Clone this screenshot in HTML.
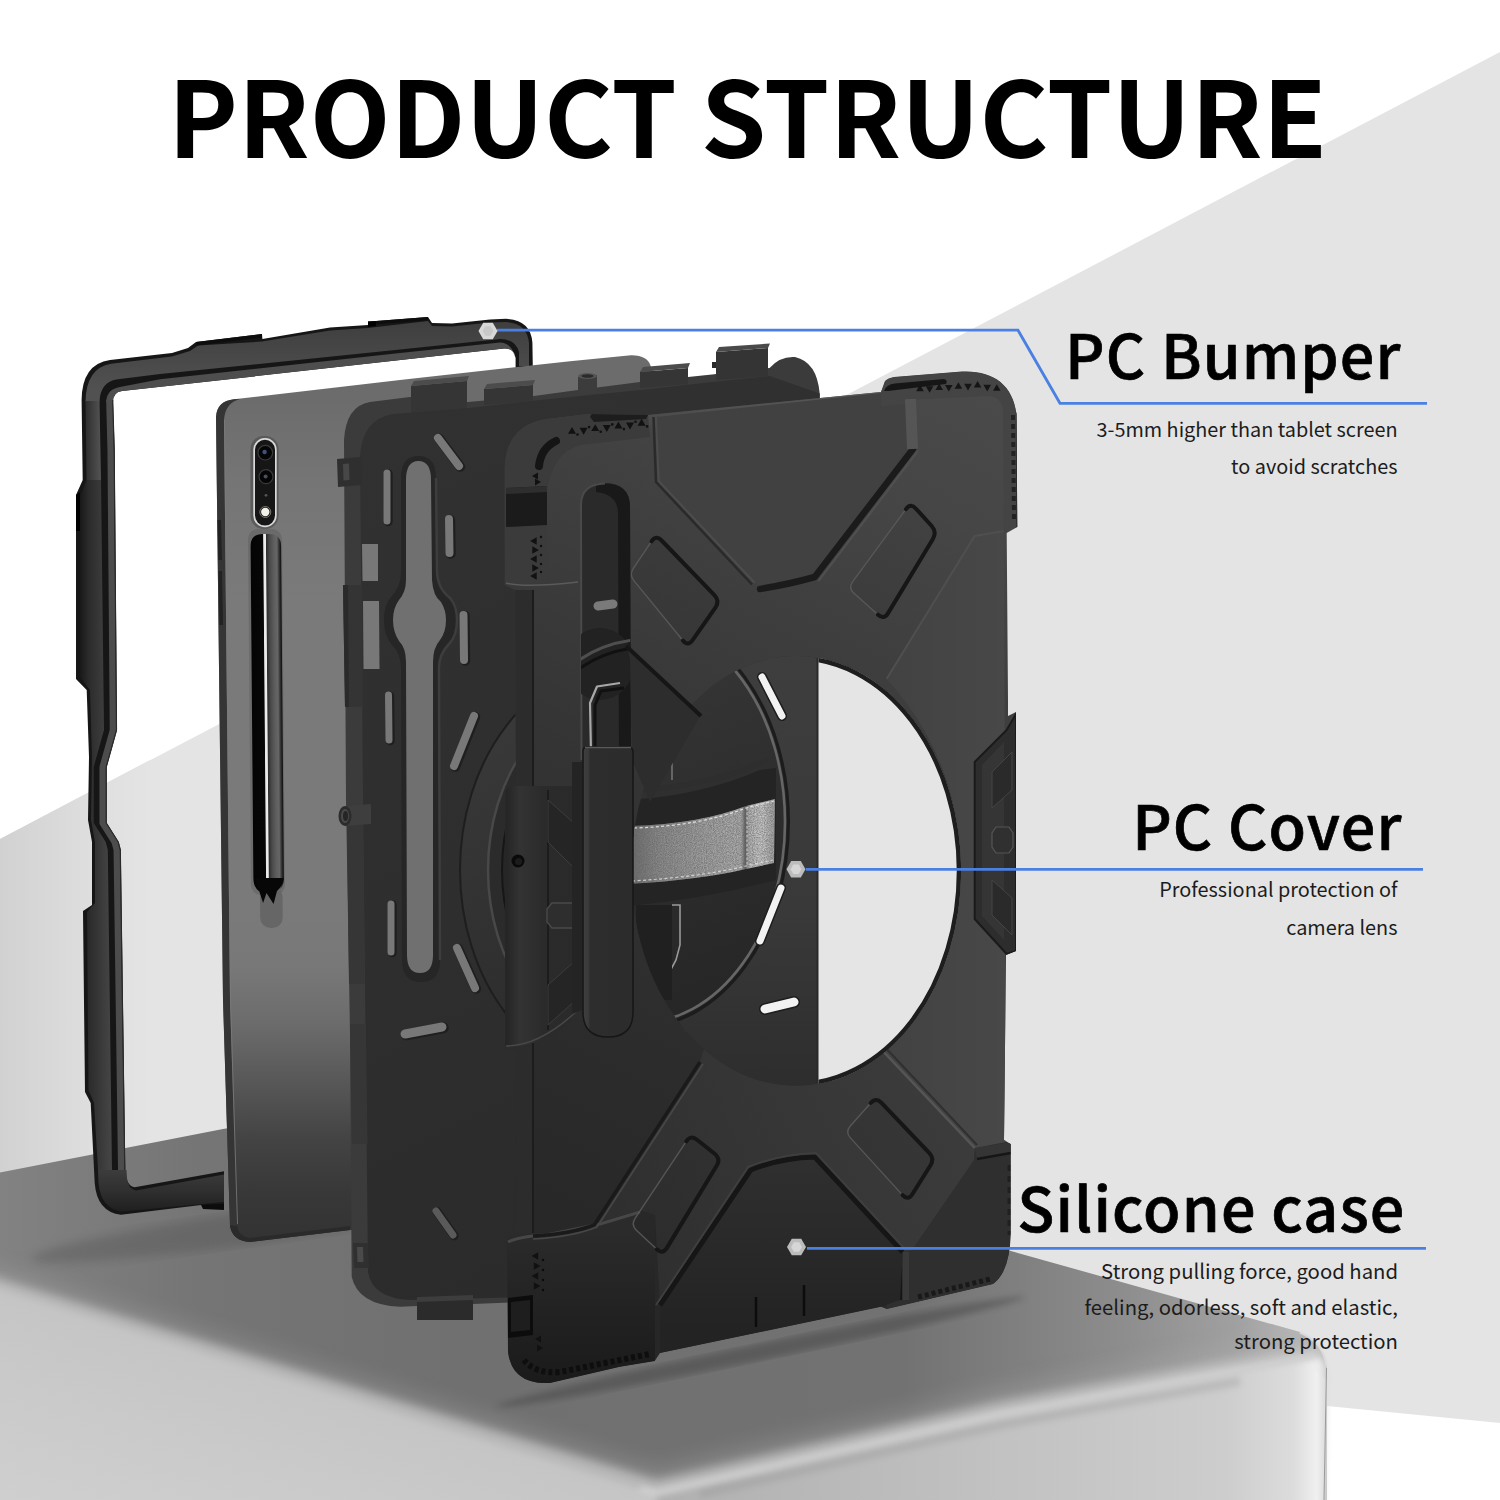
<!DOCTYPE html>
<html lang="en"><head><meta charset="utf-8"><title>Product Structure</title>
<style>
html,body{margin:0;padding:0;background:#fff}
#stage{position:relative;width:1500px;height:1500px;overflow:hidden;background:#fff;font-family:"Noto Sans CJK SC","Liberation Sans",sans-serif;color:#000}
#stage svg{position:absolute;left:0;top:0;display:block}
.t{position:absolute;white-space:nowrap;line-height:1;margin:0}
.title{left:168px;top:60px;font-size:105px;font-weight:700;letter-spacing:0px}
.h{font-size:61px;font-weight:500;right:98.5px;text-align:right;letter-spacing:1.1px;-webkit-text-stroke:0.7px #000}
.s{font-size:19.85px;font-weight:400;right:102.5px;text-align:right;color:#1c1c1c}
</style></head><body>
<div id="stage">
<svg width="1500" height="1500" viewBox="0 0 1500 1500"><defs><linearGradient id="bgG" gradientUnits="userSpaceOnUse" x1="0" y1="0" x2="150" y2="0"><stop offset="0" stop-color="#d1d1d1"/><stop offset="0.6" stop-color="#dedede"/><stop offset="1" stop-color="#e4e4e4"/></linearGradient><filter id="blur6" x="-10%" y="-10%" width="120%" height="120%"><feGaussianBlur stdDeviation="5"/></filter><filter id="blur3" x="-10%" y="-10%" width="120%" height="120%"><feGaussianBlur stdDeviation="3"/></filter><filter id="blur12" x="-20%" y="-20%" width="140%" height="140%"><feGaussianBlur stdDeviation="12"/></filter><filter id="blur20" x="-20%" y="-20%" width="140%" height="140%"><feGaussianBlur stdDeviation="20"/></filter><linearGradient id="pedTop" gradientUnits="userSpaceOnUse" x1="0" y1="0" x2="1327" y2="0"><stop offset="0" stop-color="#828282"/><stop offset="0.15" stop-color="#757575"/><stop offset="0.35" stop-color="#707070"/><stop offset="0.68" stop-color="#727272"/><stop offset="0.77" stop-color="#808080"/><stop offset="0.85" stop-color="#8e8e8e"/><stop offset="0.93" stop-color="#a0a0a0"/><stop offset="1" stop-color="#c0c0c0"/></linearGradient><linearGradient id="pedL" gradientUnits="userSpaceOnUse" x1="0" y1="1293" x2="-88" y2="1580"><stop offset="0" stop-color="#c5c5c5"/><stop offset="0.3" stop-color="#cacaca"/><stop offset="1" stop-color="#d4d4d4"/></linearGradient><linearGradient id="pedR" gradientUnits="userSpaceOnUse" x1="656" y1="0" x2="1327" y2="0"><stop offset="0" stop-color="#b0b0b0"/><stop offset="0.55" stop-color="#c3c3c3"/><stop offset="0.85" stop-color="#cdcdcd"/><stop offset="0.95" stop-color="#dcdcdc"/><stop offset="0.985" stop-color="#f0f0f0"/><stop offset="1" stop-color="#d8d8d8"/></linearGradient><linearGradient id="frTop" gradientUnits="userSpaceOnUse" x1="0" y1="320" x2="0" y2="390"><stop offset="0" stop-color="#3e3e3e"/><stop offset="1" stop-color="#515151"/></linearGradient><linearGradient id="frLeftA" gradientUnits="userSpaceOnUse" x1="84" y1="0" x2="102" y2="0"><stop offset="0" stop-color="#2a2a2a"/><stop offset="1" stop-color="#565656"/></linearGradient><linearGradient id="frLeftB" gradientUnits="userSpaceOnUse" x1="78" y1="0" x2="110" y2="0"><stop offset="0" stop-color="#141414"/><stop offset="0.35" stop-color="#2c2c2c"/><stop offset="1" stop-color="#444444"/></linearGradient><linearGradient id="frBot" gradientUnits="userSpaceOnUse" x1="0" y1="1170" x2="0" y2="1215"><stop offset="0" stop-color="#3c3c3c"/><stop offset="0.5" stop-color="#2e2e2e"/><stop offset="1" stop-color="#1c1c1c"/></linearGradient><linearGradient id="tab" gradientUnits="userSpaceOnUse" x1="0" y1="400" x2="0" y2="1245"><stop offset="0" stop-color="#6c6c6c"/><stop offset="0.095" stop-color="#757575"/><stop offset="0.237" stop-color="#7a7a7a"/><stop offset="0.592" stop-color="#7a7a7a"/><stop offset="0.67" stop-color="#787878"/><stop offset="0.737" stop-color="#6c6c6c"/><stop offset="0.805" stop-color="#585858"/><stop offset="0.872" stop-color="#444444"/><stop offset="0.938" stop-color="#383838"/><stop offset="1" stop-color="#323232"/></linearGradient><linearGradient id="pen" gradientUnits="userSpaceOnUse" x1="250.5" y1="0" x2="281" y2="0"><stop offset="0" stop-color="#040404"/><stop offset="0.4" stop-color="#070707"/><stop offset="0.43" stop-color="#e8e8e8"/><stop offset="0.49" stop-color="#f0f0f0"/><stop offset="0.52" stop-color="#2e2e2e"/><stop offset="0.62" stop-color="#4a4a4a"/><stop offset="0.76" stop-color="#5e5e5e"/><stop offset="0.86" stop-color="#666666"/><stop offset="0.92" stop-color="#3a3a3a"/><stop offset="1" stop-color="#0c0c0c"/></linearGradient><linearGradient id="pcFace" gradientUnits="userSpaceOnUse" x1="360" y1="400" x2="820" y2="1300"><stop offset="0" stop-color="#313131"/><stop offset="0.5" stop-color="#2e2e2e"/><stop offset="1" stop-color="#2a2a2a"/></linearGradient><linearGradient id="disc" gradientUnits="userSpaceOnUse" x1="460" y1="700" x2="640" y2="1050"><stop offset="0" stop-color="#3a3a3a"/><stop offset="1" stop-color="#2a2a2a"/></linearGradient><linearGradient id="pcHole" gradientUnits="userSpaceOnUse" x1="0" y1="650" x2="0" y2="1090"><stop offset="0" stop-color="#3e3e3e"/><stop offset="0.6" stop-color="#393939"/><stop offset="1" stop-color="#2d2d2d"/></linearGradient><linearGradient id="inner" gradientUnits="userSpaceOnUse" x1="640" y1="700" x2="760" y2="1020"><stop offset="0" stop-color="#343434"/><stop offset="0.5" stop-color="#2c2c2c"/><stop offset="1" stop-color="#252525"/></linearGradient><linearGradient id="silver" gradientUnits="userSpaceOnUse" x1="630" y1="0" x2="776" y2="0"><stop offset="0" stop-color="#6a6a6a"/><stop offset="0.2" stop-color="#8a8a8a"/><stop offset="0.5" stop-color="#a0a0a0"/><stop offset="0.76" stop-color="#aeaeae"/><stop offset="0.79" stop-color="#5e5e5e"/><stop offset="0.815" stop-color="#b4b4b4"/><stop offset="0.9" stop-color="#cccccc"/><stop offset="1" stop-color="#9c9c9c"/></linearGradient><filter id="leather" x="0" y="0" width="100%" height="100%"><feTurbulence type="fractalNoise" baseFrequency="0.9" numOctaves="2" seed="3" result="n"/><feColorMatrix in="n" type="matrix" values="0 0 0 0 0.12  0 0 0 0 0.12  0 0 0 0 0.12  1.2 1.2 1.2 0 -1.35"/><feComposite operator="in" in2="SourceGraphic"/></filter><linearGradient id="sil" gradientUnits="userSpaceOnUse" x1="520" y1="1350" x2="1010" y2="400"><stop offset="0" stop-color="#252525"/><stop offset="0.3" stop-color="#2c2c2c"/><stop offset="0.52" stop-color="#343434"/><stop offset="0.72" stop-color="#3e3e3e"/><stop offset="0.88" stop-color="#464646"/><stop offset="1" stop-color="#4a4a4a"/></linearGradient><linearGradient id="silTop" gradientUnits="objectBoundingBox" x1="0" y1="0" x2="0" y2="1"><stop offset="0" stop-color="#585858"/><stop offset="1" stop-color="#58585800"/></linearGradient><linearGradient id="blb" gradientUnits="userSpaceOnUse" x1="0" y1="1230" x2="0" y2="1385"><stop offset="0" stop-color="#2b2b2b"/><stop offset="1" stop-color="#1a1a1a"/></linearGradient><linearGradient id="armLo" gradientUnits="userSpaceOnUse" x1="600" y1="1250" x2="980" y2="1050"><stop offset="0" stop-color="#2e2e2e"/><stop offset="0.5" stop-color="#363636"/><stop offset="1" stop-color="#3d3d3d"/></linearGradient><linearGradient id="rp" gradientUnits="userSpaceOnUse" x1="880" y1="0" x2="1008" y2="0"><stop offset="0" stop-color="#424242"/><stop offset="1" stop-color="#484848"/></linearGradient><linearGradient id="bp" gradientUnits="userSpaceOnUse" x1="0" y1="1150" x2="0" y2="1330"><stop offset="0" stop-color="#303030"/><stop offset="1" stop-color="#232323"/></linearGradient><linearGradient id="hinge" gradientUnits="userSpaceOnUse" x1="505" y1="0" x2="580" y2="0"><stop offset="0" stop-color="#242424"/><stop offset="0.2" stop-color="#333"/><stop offset="0.5" stop-color="#2b2b2b"/><stop offset="1" stop-color="#2a2a2a"/></linearGradient><linearGradient id="bar" gradientUnits="userSpaceOnUse" x1="582" y1="0" x2="634" y2="0"><stop offset="0" stop-color="#404040"/><stop offset="0.12" stop-color="#3a3a3a"/><stop offset="0.16" stop-color="#2d2d2d"/><stop offset="1" stop-color="#2c2c2c"/></linearGradient></defs>
<polygon points="0,839 1500,52 1500,1423 1327,1406 1327,1500 0,1500" fill="#e4e4e4" />
<polygon points="0,839 150,760 150,1200 0,1200" fill="url(#bgG)" />
<path d="M0,1172.5 L223,1129 L485,1084 L1000,1248 L1300,1332 Q1324,1342 1327,1366 L1327,1500 L0,1500 Z" fill="url(#pedTop)" />
<clipPath id="pedClip"><path d="M0,1172.5 L223,1129 L485,1084 L1000,1248 L1300,1332 Q1324,1342 1327,1366 L1327,1500 L0,1500 Z"/></clipPath>
<g clip-path="url(#pedClip)">
<ellipse cx="250" cy="1228" rx="220" ry="16" fill="#505050" opacity="0.35" filter="url(#blur6)" transform="rotate(-8 250 1228)"/>
<ellipse cx="760" cy="1352" rx="270" ry="8" fill="#333" opacity="0.35" filter="url(#blur3)" transform="rotate(-11.7 760 1352)"/>
<path d="M-30,1292 L656,1502 L1000,1421 L1330,1361" stroke="#b0b0b0" stroke-width="56" fill="none" opacity="0.45" filter="url(#blur12)" stroke-linejoin="round"/>
<path d="M-30,1284 L656,1494 L1000,1415 L1330,1355" stroke="#c4c4c4" stroke-width="26" fill="none" opacity="0.8" filter="url(#blur6)" stroke-linejoin="round"/>
</g>
<g filter="url(#blur3)">
<polygon points="-10,1287 656,1494 656,1520 -10,1520" fill="url(#pedL)" />
<path d="M656,1494 L1000,1415 L1318,1357 Q1327,1362 1327,1372 L1324,1520 L656,1520 Z" fill="url(#pedR)" />
</g>
<polygon points="0,1300 656,1502 656,1500 0,1500" fill="url(#pedL)" />
<path d="M656,1502 L1000,1423 L1310,1366 L1327,1380 L1324,1500 L656,1500 Z" fill="url(#pedR)" />
<path d="M700,1494 L1000,1425 L1240,1381" stroke="#8c8c8c" stroke-width="9" fill="none" opacity="0.28" filter="url(#blur3)"/>
<path d="M640,1489 L656,1493 L1000,1414 L1316,1355" stroke="#d6d6d6" stroke-width="6" fill="none" opacity="0.85" filter="url(#blur3)" stroke-linejoin="round"/>
<path d="M1300,1332 Q1324,1342 1327,1366" stroke="#e0e0e0" stroke-width="3" fill="none" opacity="0.8"/>
<line x1="1326.5" y1="1368" x2="1324" y2="1500" stroke="#9a9a9a" stroke-width="1"/>
<path d="M81.6,400 Q82,364 110,360 L172,353 L188,348 L196,342 L262,334 L262.4,339 L330,327.5 L368,325 L368,321.6 L376,321 L428,317 L432,323 L452,323.6 L490,319.6 L506,318.8 Q531,320 532.4,342.8 L533,380 L515.6,380 L515.6,358 Q514,348 504,348.6 L122,391 Q113,392 113,402 L114.7,450 L117,730 L106.7,767 L106.7,823 L118.7,842 L120.8,850 L125.3,1170 Q126,1186 134.7,1187.3 L224,1171.3 L224,1209 L201,1205 L121,1214.8 Q97,1212 94.7,1183 L90.7,1103 L85,1092 L83,911 L92,905 L92,842 L88,820 L89,757 L86.7,690 L76,679 L76,495 L82.7,480 Z" fill="#161616" />
<path d="M85.5,402 Q86,368 111,363.8 L172,356.5 L190,351 L198,345.5 L262,341.5 L330,330.5 L368,328 L428,321 L432,326 L452,326.6 L490,322.6 L506,322 Q527,323 529,343 L529,366 L519,366 L519,352 Q515,338 498,339.2 L400,349.5 L160,374 L118,379.2 Q100,381.5 99.5,402 Z" fill="url(#frTop)" />
<path d="M122.5,386.6 L160,379.3 L400,353 L500,342.5 Q511,343 514,354 L515.6,358 Q514,348 504,348.6 L122,391 Q113,392 113,402 L106.2,402 Q106.5,388.5 122.5,386.6 Z" fill="#4e4e4e" />
<polygon points="196,342 262,334 262,337.5 197,345.5" fill="#0d0d0d" />
<polygon points="376,321 428,317 428,320.2 376,324.3" fill="#0d0d0d" />
<polygon points="368,321.6 376,321 376,326 368,327" fill="#000" />
<polygon points="85.5,401 99.5,401 101,480 86.5,480" fill="url(#frLeftA)" />
<polygon points="86.5,480 101,480 104,730 93.7,767 93.7,823 105.7,842 107.8,850 112,1170 98,1170 94,1103 88.5,1090 87,912 95,903 95,842 91,820 92,757 90,690 80,677 80,497" fill="url(#frLeftB)" />
<polyline points="109.4,400 110.7,450 113,730 102.7,767 102.7,823 114.7,842 116.8,850 121.3,1172" fill="none" stroke="#4c4c4c" stroke-width="6.5" stroke-linejoin="round"/>
<polyline points="112.7,400 114.2,450 116.5,730 106.2,767 106.2,823 118.2,842 120.3,850 124.8,1172" fill="none" stroke="#2a2a2a" stroke-width="1.2" stroke-linejoin="round"/>
<path d="M127,1178 Q128,1189 136,1190.5 L224,1174.5 L224,1202 L122,1211.5 Q101,1209 98.5,1183 L98,1170 L126.5,1170 Z" fill="url(#frBot)" />
<polygon points="201,1205 224,1204 224,1210 203,1209" fill="#0c0c0c" />
<polygon points="76,495 80,492 80,531 76,531" fill="#000" />
<path d="M216,417 Q217,401 234,399.3 L400,380 L570,361.2 L631,355.2 Q648,355 651,367 L651,1210 L350,1230 L250,1242 Q232,1241 230,1225 L223,1000 Z" fill="url(#tab)" />
<path d="M216,417 Q217,401 234,399.3 L240,399 Q225,403 224,420 L230,1000 L237,1226 Q238,1236 250,1240 Q232,1241 230,1225 L223,1000 Z" fill="#353535" />
<path d="M224.5,420 L230.5,1000 L237.5,1224" stroke="#7c7c7c" stroke-width="1" fill="none" opacity="0.8"/>
<path d="M237,1226 Q238,1236 250,1238 L350,1226 L350,1230 L250,1242 Q232,1241 230,1225 Z" fill="#2a2a2a" />
<polygon points="217.5,520 221,520 222,560 218.5,560" fill="#222" />
<polygon points="218.5,571 222,571 223,625 219.5,625" fill="#222" />
<rect x="250.5" y="436" width="28" height="93" rx="13" fill="#4a4a4a" opacity="0.6"/>
<rect x="253.3" y="438" width="23.4" height="89.3" rx="11.7" fill="#d9d9d9"/>
<rect x="255" y="439.7" width="20" height="85.9" rx="10" fill="#161616"/>
<circle cx="265.3" cy="452.7" r="7.3" fill="#050505" stroke="#3a3a3a" stroke-width="1.2"/>
<circle cx="264.6" cy="452" r="2.2" fill="#41507c"/>
<circle cx="266" cy="476.7" r="7" fill="#050505" stroke="#3a3a3a" stroke-width="1.2"/>
<circle cx="265.6" cy="476.5" r="2" fill="#4a4f60"/>
<circle cx="266" cy="495.3" r="1.4" fill="#555"/>
<circle cx="265.3" cy="512" r="4.2" fill="#f4f2e6"/>
<circle cx="265.3" cy="512" r="5.5" fill="none" stroke="#777" stroke-width="1"/>
<g transform="translate(-4.48,0) skewX(0.48)">
<rect x="248" y="529" width="34" height="366" rx="10" fill="#5a5a5a" opacity="0.45"/>
<rect x="257" y="886" width="22.5" height="42" rx="10.5" fill="#666666"/>
<path d="M250.5,546 Q250.5,534 263,534 L269,534 Q281,534 281,546 L281,878 Q281,889 273,892 L258,892 Q250.5,889 250.5,878 Z" fill="url(#pen)" />
<path d="M252,878 Q256,890 260,903 L263.5,893 L270.5,904 L274,891 Q280,886 281,878 Z" fill="#070707" />
</g>
<path d="M344,440 Q346,406 370,402 L410,397 L468,402 L534,396 L578,390 L640,382 L712,374.4 L769.6,368 Q780,356 795,357 Q817,362 819.7,393.6 L820,1290 L473,1304 L473,1320 L417,1320 L417,1306 L400,1306.7 Q358,1305 351.7,1276.7 L350,1033 L346,800 Z" fill="#3b3b3b" />
<polygon points="411,386 467,381 467,411 411,416" fill="#353535" />
<polygon points="414,381 469,376 467,381 411,386" fill="#4c4c4c" />
<polygon points="484,389 533,385 533,401 484,405" fill="#353535" />
<polygon points="487,384 535,380 533,385 484,389" fill="#4c4c4c" />
<polygon points="640,372 688,368 688,384 640,388" fill="#353535" />
<polygon points="643,367 690,363 688,368 640,372" fill="#4c4c4c" />
<polygon points="578,377 597,375 597,393 578,395" fill="#3c3c3c" />
<ellipse cx="587.5" cy="376" rx="9.5" ry="3" fill="#555"/>
<ellipse cx="587.5" cy="376" rx="6" ry="1.8" fill="#2a2a2a"/>
<polygon points="716,352 768,348 768,376 716,380" fill="#343434" />
<polygon points="719,347 770,343.5 768,348 716,352" fill="#4a4a4a" />
<polygon points="712,362 716,362 716,368 712,368" fill="#2a2a2a" />
<path d="M360,456 Q362,420 392,414 L468,408 L540,400 L640,390 L712,382 L770,376 L819.7,393.6 L820,1290 L410,1300 Q372,1298 368,1272 L363,800 Z" fill="url(#pcFace)" />
<polygon points="337,459 361,457 362,485 338,487" fill="#2f2f2f" />
<polygon points="343,464 349,463.5 349.5,480 343.5,480.5" fill="#474747" />
<polygon points="362,544 378,544 378,581 362.5,581" fill="#787878" />
<polygon points="363,601 379,601 379.5,669 363.5,669" fill="#787878" />
<polygon points="343,585 362,585 363,707 345,707" fill="#343434" />
<polygon points="347,824 363,824 364.5,984 349,984" fill="#363636" />
<polygon points="350,1024 366,1024 367.5,1144 352,1144" fill="#363636" />
<polygon points="343,585 348,585 349,707 345,707" fill="#2a2a2a" />
<polygon points="345,806 371,804 371,824 345,826" fill="#3e3e3e" />
<ellipse cx="345" cy="816" rx="6.5" ry="10" fill="#2c2c2c"/>
<ellipse cx="345" cy="816" rx="4" ry="7" fill="#4a4a4a"/>
<ellipse cx="345.5" cy="816" rx="2.5" ry="5" fill="#252525"/>
<path d="M401,478 Q401,456 418.5,456 Q436,456 436,478 L437,570 Q437,588 450,598 Q457,606 457,620 Q457,636 449,644 Q439,654 439,668 L440,960 Q440,982 421,982 Q402,982 402,960 L401,668 Q401,654 392,645 Q384,636 384,620 Q384,604 392,596 Q401,586 401,572 Z" fill="#262626" />
<path d="M406,480 Q406,461 418.5,461 Q431,461 431,480 L432,580 Q433,596 441,602 Q446,610 446,620 Q446,632 440,640 Q433,648 433,662 L433,955 Q433,973 420,973 Q407,973 407,955 L406,662 Q406,648 399,641 Q393,632 393,620 Q393,608 399,600 Q406,592 406,580 Z" fill="#707070" />
<path d="M436,478 L437,570 Q437,588 450,598 Q457,606 457,620 Q457,636 449,644 Q439,654 439,668 L440,960" stroke="#3d3d3d" stroke-width="2.5" fill="none"/>
<line x1="388.2" y1="473.8" x2="388.2" y2="521.8" stroke="#1f1f1f" stroke-width="9" stroke-linecap="round"/>
<line x1="387" y1="473" x2="387" y2="521" stroke="#787878" stroke-width="7" stroke-linecap="round" opacity="1"/>
<line x1="439.2" y1="438.8" x2="460.2" y2="466.8" stroke="#1f1f1f" stroke-width="10" stroke-linecap="round"/>
<line x1="438" y1="438" x2="459" y2="466" stroke="#787878" stroke-width="8" stroke-linecap="round" opacity="1"/>
<line x1="450.2" y1="519.8" x2="450.7" y2="553.8" stroke="#1f1f1f" stroke-width="10" stroke-linecap="round"/>
<line x1="449" y1="519" x2="449.5" y2="553" stroke="#787878" stroke-width="8" stroke-linecap="round" opacity="1"/>
<line x1="464.7" y1="615.8" x2="465.2" y2="660.8" stroke="#1f1f1f" stroke-width="10" stroke-linecap="round"/>
<line x1="463.5" y1="615" x2="464" y2="660" stroke="#787878" stroke-width="8" stroke-linecap="round" opacity="1"/>
<line x1="389.7" y1="695.8" x2="390.2" y2="740.8" stroke="#1f1f1f" stroke-width="9" stroke-linecap="round"/>
<line x1="388.5" y1="695" x2="389" y2="740" stroke="#787878" stroke-width="7" stroke-linecap="round" opacity="1"/>
<line x1="475.2" y1="716.8" x2="455.2" y2="766.8" stroke="#1f1f1f" stroke-width="10" stroke-linecap="round"/>
<line x1="474" y1="716" x2="454" y2="766" stroke="#787878" stroke-width="8" stroke-linecap="round" opacity="1"/>
<line x1="392.2" y1="904.8" x2="392.2" y2="952.8" stroke="#1f1f1f" stroke-width="9" stroke-linecap="round"/>
<line x1="391" y1="904" x2="391" y2="952" stroke="#787878" stroke-width="7" stroke-linecap="round" opacity="1"/>
<line x1="458.2" y1="948.8" x2="476.2" y2="988.8" stroke="#1f1f1f" stroke-width="10" stroke-linecap="round"/>
<line x1="457" y1="948" x2="475" y2="988" stroke="#787878" stroke-width="8" stroke-linecap="round" opacity="1"/>
<line x1="406.2" y1="1034.8" x2="443.2" y2="1027.8" stroke="#1f1f1f" stroke-width="11" stroke-linecap="round"/>
<line x1="405" y1="1034" x2="442" y2="1027" stroke="#787878" stroke-width="9" stroke-linecap="round" opacity="1"/>
<line x1="437.2" y1="1211.8" x2="454.2" y2="1235.8" stroke="#1f1f1f" stroke-width="9" stroke-linecap="round"/>
<line x1="436" y1="1211" x2="453" y2="1235" stroke="#5a5a5a" stroke-width="7" stroke-linecap="round" opacity="1"/>
<ellipse cx="622" cy="870" rx="162" ry="206" fill="url(#disc)" stroke="#1e1e1e" stroke-width="2"/>
<ellipse cx="626" cy="870" rx="138" ry="178" fill="#2b2b2b" stroke="#484848" stroke-width="2.5"/>
<ellipse cx="630" cy="870" rx="128" ry="166" fill="#262626" stroke="#161616" stroke-width="2"/>
<polygon points="417,1297 473,1295 473,1320 417,1320" fill="#2b2b2b" />
<polygon points="417,1297 473,1295 473,1300 417,1302" fill="#3d3d3d" />
<polygon points="353,1243 368,1243 369,1268 354,1268" fill="#303030" />
<polygon points="357,1247 363,1247 363.5,1262 357.5,1262" fill="#4a4a4a" />
<clipPath id="holeClip"><ellipse cx="796" cy="871" rx="165" ry="215"/></clipPath>
<g clip-path="url(#holeClip)">
<polygon points="620,640 817,640 817,1100 620,1100" fill="url(#pcHole)" />
<polygon points="817,640 980,640 980,1100 817,1100" fill="#e5e5e5" />
<line x1="817.5" y1="640" x2="817.5" y2="1100" stroke="#2a2a2a" stroke-width="2"/>
<ellipse cx="639" cy="822" rx="149.5" ry="205" fill="url(#inner)" stroke="#1c1c1c" stroke-width="3"/>
<ellipse cx="639" cy="822" rx="146" ry="201" fill="none" stroke="#666" stroke-width="2.6"/>
<line x1="762" y1="677" x2="782" y2="716" stroke="#1d1d1d" stroke-width="10" stroke-linecap="round"/>
<line x1="762" y1="677" x2="782" y2="716" stroke="#f2f2f2" stroke-width="7" stroke-linecap="round"/>
<line x1="781" y1="888" x2="760" y2="941" stroke="#1d1d1d" stroke-width="10" stroke-linecap="round"/>
<line x1="781" y1="888" x2="760" y2="941" stroke="#f2f2f2" stroke-width="7" stroke-linecap="round"/>
<line x1="765" y1="1009" x2="794" y2="1002" stroke="#1d1d1d" stroke-width="12" stroke-linecap="round"/>
<line x1="765" y1="1009" x2="794" y2="1002" stroke="#f2f2f2" stroke-width="9" stroke-linecap="round"/>
<path d="M672,905 L680,905 L680,945 L676,960 L668,975" stroke="#9a9a9a" stroke-width="1.6" fill="none"/>
<path d="M640,940 L662,940 L662,952 L672,952" stroke="#111" stroke-width="3" fill="none"/>
<path d="M672,700 L672,780" stroke="#8a8a8a" stroke-width="1.2" fill="none"/>
<polygon points="636,905 672,905 672,1000 636,1000" fill="#202020" />
<path d="M628,800 Q700,796 760,770 L776,768 L776,880 Q700,900 628,906 Z" fill="#242424" />
<path d="M640,790 Q710,786 768,760" stroke="#2e2e2e" stroke-width="5" fill="none"/>
<path d="M630,826 Q700,824 746,806 L775,799 L774,863 L746,869 Q700,880 628,884 Z" fill="url(#silver)" />
<path d="M630,826 Q700,824 746,806 L775,799 L774,863 L746,869 Q700,880 628,884 Z" fill="#ffffff" filter="url(#leather)" opacity="0.6"/>
<path d="M634,828 Q700,826 746,808 L774,801" stroke="#e8e8e8" stroke-width="1.2" stroke-dasharray="3 2.4" fill="none" opacity="0.9"/>
<path d="M632,881 Q700,877 746,866 L773,860" stroke="#e0e0e0" stroke-width="1.2" stroke-dasharray="3 2.4" fill="none" opacity="0.8"/>
<path d="M747,808 L747,866" stroke="#eeeeee" stroke-width="1" stroke-dasharray="2.5 2" fill="none" opacity="0.7"/>
</g>
<path d="M504.7,468 Q506,424 548.7,418.7 L588,414 L648,415 L881,392 L885,381 Q888,378 894,377 L962,371.5 C992,370 1013,384 1016.5,414 L1017.3,527 L1006.7,533 L1008,700 L1008,716 L1016,712 L1016,951 L1006,955 L1004,1140 L1010.7,1144 L1010.7,1233 Q1010,1272 993,1284 L886.7,1309 L881,1306.7 L660,1353 L654.7,1361 L620,1366.7 L550,1383 Q512,1385 508,1352 L507,1240 L515,1233 L516,1050 L505.3,1050 L505.3,786 L516,786 L515,590 L504.7,585 Z M796,656 A165,215 0 0 1 796,1086 A165,215 0 0 1 796,656 Z" fill="url(#sil)" fill-rule="evenodd"/>
<clipPath id="holeR"><rect x="818.5" y="640" width="160" height="460"/></clipPath>
<g clip-path="url(#holeR)"><ellipse cx="796" cy="871" rx="163" ry="213" fill="none" stroke="#1e1e1e" stroke-width="4.5"/></g>
<clipPath id="silClip"><path d="M504.7,468 Q506,424 548.7,418.7 L588,414 L648,415 L881,392 L885,381 Q888,378 894,377 L962,371.5 C992,370 1013,384 1016.5,414 L1017.3,527 L1006.7,533 L1008,700 L1008,716 L1016,712 L1016,951 L1006,955 L1004,1140 L1010.7,1144 L1010.7,1233 Q1010,1272 993,1284 L886.7,1309 L881,1306.7 L660,1353 L654.7,1361 L620,1366.7 L550,1383 Q512,1385 508,1352 L507,1240 L515,1233 L516,1050 L505.3,1050 L505.3,786 L516,786 L515,590 L504.7,585 Z M796,656 A165,215 0 0 1 796,1086 A165,215 0 0 1 796,656 Z" clip-rule="evenodd"/></clipPath>
<g clip-path="url(#silClip)">
<polygon points="505,590 533,590 533,1240 505,1240" fill="#2c2c2c" />
<line x1="533" y1="590" x2="533" y2="1240" stroke="#1c1c1c" stroke-width="2"/>
<polygon points="648,413 885,390 885,410 648,434" fill="url(#silTop)" />
<path d="M504.7,585 L504.7,468 Q506,424 548.7,418.7 L588,414 L648,415 L650,437 L580.7,445 Q552,452 547,492 L547,582.7 Z" fill="#3b3b3b" />
<polygon points="506,488 547,486 547,525 506,527" fill="#1b1b1b" />
<polygon points="506,488 547,486 547,492 506,494" fill="#2e2e2e" />
<path d="M506,583 Q525,588 578,582" stroke="#5a5a5a" stroke-width="1.5" fill="none"/>
<path d="M590,417 Q592,411.5 600,411 L638,408.5 Q646,409 648,415 L646,419 L594,422 Z" fill="#1d1d1d" />
<polygon points="572.0,426.9 576.0,433.8 568.0,433.8" fill="#111" />
<circle cx="577.5" cy="434.5" r="1.3" fill="#111"/>
<polygon points="583.6,434.8 579.6,427.8 587.6,427.8" fill="#111" />
<circle cx="589.1" cy="427.1" r="1.3" fill="#111"/>
<polygon points="595.2,424.2 599.2,431.1 591.2,431.1" fill="#111" />
<circle cx="600.7" cy="431.8" r="1.3" fill="#111"/>
<polygon points="606.8,432.1 602.8,425.1 610.8,425.1" fill="#111" />
<circle cx="612.3" cy="424.4" r="1.3" fill="#111"/>
<polygon points="618.4,421.5 622.4,428.4 614.4,428.4" fill="#111" />
<circle cx="623.9" cy="429.1" r="1.3" fill="#111"/>
<polygon points="630.0,429.4 626.0,422.4 634.0,422.4" fill="#111" />
<circle cx="635.5" cy="421.8" r="1.3" fill="#111"/>
<polygon points="641.6,418.8 645.6,425.7 637.6,425.7" fill="#111" />
<circle cx="647.1" cy="426.4" r="1.3" fill="#111"/>
<path d="M539,466 Q541,448 556,441" stroke="#151515" stroke-width="8" stroke-linecap="round" fill="none"/>
<polygon points="532.0,476.0 538.0,472.5 538.0,479.5" fill="#111" />
<polygon points="541.0,482.0 535.0,485.5 535.0,478.5" fill="#111" />
<polygon points="530.1,541.0 536.7,537.2 536.7,544.8" fill="#111" />
<circle cx="541" cy="537" r="1.2" fill="#111"/>
<polygon points="538.9,550.0 532.3,553.8 532.3,546.2" fill="#111" />
<circle cx="541" cy="546" r="1.2" fill="#111"/>
<polygon points="530.1,559.0 536.7,555.2 536.7,562.8" fill="#111" />
<circle cx="541" cy="555" r="1.2" fill="#111"/>
<polygon points="538.9,568.0 532.3,571.8 532.3,564.2" fill="#111" />
<circle cx="541" cy="564" r="1.2" fill="#111"/>
<polygon points="530.1,576.0 536.7,572.2 536.7,579.8" fill="#111" />
<circle cx="541" cy="572" r="1.2" fill="#111"/>
<path d="M881,392 L885,381 Q888,378 894,377 L962,371.5 C992,370 1013,384 1016.5,414 L1017.3,527 L1004,531 L1003,410 Q1001,396 988,396 L906,400 L906.7,404 L881,406 Z" fill="#444444" />
<path d="M884,391 Q886,384.5 895,383.5 L944,379 Q948,380 946,384 L888,391 Z" fill="#161616" />
<polygon points="920.0,384.6 923.8,391.2 916.2,391.2" fill="#151515" />
<polygon points="929.6,392.8 925.8,386.2 933.4,386.2" fill="#151515" />
<polygon points="939.2,383.4 943.0,390.0 935.4,390.0" fill="#151515" />
<polygon points="948.8,391.6 945.0,385.0 952.6,385.0" fill="#151515" />
<polygon points="958.4,382.2 962.2,388.8 954.6,388.8" fill="#151515" />
<polygon points="968.0,390.4 964.2,383.8 971.8,383.8" fill="#151515" />
<polygon points="977.6,381.0 981.4,387.6 973.8,387.6" fill="#151515" />
<polygon points="987.2,391.4 983.4,384.8 991.0,384.8" fill="#151515" />
<polygon points="996.8,384.2 1000.6,390.8 993.0,390.8" fill="#151515" />
<path d="M1013,415 L1014,520" stroke="#222" stroke-width="4" stroke-dasharray="5 4" fill="none"/>
<path d="M1016.5,400 L1017,527" stroke="#2a2a2a" stroke-width="1.5" fill="none"/>
<path d="M507,1240 L515,1233 L547,1233 L600,1222 L640,1210 L655,1215 L655,1361 L620,1366.7 L550,1383 Q512,1385 508,1352 Z" fill="url(#blb)" />
<path d="M508,1242 Q520,1236 547,1235 L600,1224 L640,1212" stroke="#474747" stroke-width="3" fill="none"/>
<polygon points="508,1298 533,1295 533,1335 508,1338" fill="#0c0c0c" />
<polygon points="511,1302 530,1300 530,1330 511,1332" fill="#1e1e1e" />
<polygon points="531.6,1256.0 538.2,1252.2 538.2,1259.8" fill="#111" />
<circle cx="543" cy="1260" r="1.2" fill="#0c0c0c"/>
<polygon points="540.4,1266.0 533.8,1269.8 533.8,1262.2" fill="#111" />
<circle cx="543" cy="1270" r="1.2" fill="#0c0c0c"/>
<polygon points="531.6,1276.0 538.2,1272.2 538.2,1279.8" fill="#111" />
<circle cx="543" cy="1280" r="1.2" fill="#0c0c0c"/>
<polygon points="540.4,1286.0 533.8,1289.8 533.8,1282.2" fill="#111" />
<circle cx="543" cy="1290" r="1.2" fill="#0c0c0c"/>
<polygon points="535.0,1339.0 541.0,1335.5 541.0,1342.5" fill="#111" />
<polygon points="543.0,1348.0 537.0,1351.5 537.0,1344.5" fill="#111" />
<path d="M524,1360 Q535,1374 560,1372 L650,1354" stroke="#0e0e0e" stroke-width="6" stroke-dasharray="4 3" fill="none"/>
<path d="M974.7,1148 L1006.7,1142.7 L1010.7,1144 L1010.7,1233 Q1010,1272 993,1284 L886.7,1309 L886,1300 L900,1296 L900,1252 L912,1250 L974,1160 Z" fill="#2f2f2f" />
<polygon points="974.7,1148 1006.7,1142.7 1010.7,1144 1010.7,1153 977,1159" fill="#353535" />
<path d="M977,1159 L1010.7,1153" stroke="#161616" stroke-width="2.5"/>
<path d="M900,1252 L900,1300" stroke="#161616" stroke-width="4"/>
<path d="M906,1252 L906,1300" stroke="#3a3a3a" stroke-width="6"/>
<path d="M918,1297 L990,1279" stroke="#141414" stroke-width="5" stroke-dasharray="4 3" fill="none" opacity="0.8"/>
<path d="M1009,1165 L1009,1235" stroke="#1a1a1a" stroke-width="3" stroke-dasharray="6 5" fill="none" opacity="0.7"/>
<polygon points="594.4,1224.8 700,1062 720,1000 860,990 878.7,1046.7 974.7,1148 974,1160 912,1250 902.7,1252 816,1157 780,1156 750.7,1170 660,1305 655,1215 640,1210 600,1222" fill="url(#armLo)" />
<path d="M656,417 L658.7,481 L754.7,582.7 Q758,589 766,588 L814.7,577 L913,449 L906.7,404 L881,406 L881,393 Z" fill="#414141" />
<path d="M913,449 L814.7,577 Q790,584 760,589" stroke="#1b1b1b" stroke-width="6.5" stroke-linejoin="round" stroke-linecap="round" fill="none"/>
<path d="M910.5,399 L912.5,449" stroke="#555555" stroke-width="11" fill="none"/>
<path d="M918,451 L818.5,581" stroke="#505050" stroke-width="2" stroke-linejoin="round" fill="none"/>
<path d="M656,417 L658.7,481 L754.7,582.7" stroke="#4c4c4c" stroke-width="2" stroke-linejoin="round" fill="none"/>
<path d="M653.5,417 L656,482 L752,584.5" stroke="#2a2a2a" stroke-width="2.5" stroke-linejoin="round" fill="none"/>
<path d="M1004,531 L974.7,536 L886.7,678.7 Q960,760 961,871 Q960,980 878.7,1046.7 L974.7,1148 L1006,1142 Z" fill="url(#rp)" />
<path d="M1004,531 L974.7,536 L886.7,678.7" stroke="#4f4f4f" stroke-width="2" fill="none"/>
<path d="M878.7,1046.7 L974.7,1148" stroke="#555" stroke-width="2.5" fill="none"/>
<path d="M882,1044 L977,1145" stroke="#303030" stroke-width="2" fill="none"/>
<path d="M750.7,1170 Q780,1158 814.7,1157 L902.7,1252 L900,1300 L881,1306.7 L660,1353 L660,1305 Z" fill="url(#bp)" />
<path d="M660,1305 L750.7,1170 Q780,1158 814.7,1157 L902.7,1252" stroke="#161616" stroke-width="5" stroke-linejoin="round" fill="none"/>
<path d="M656,1305 L748,1167 Q780,1154 816,1153 L906,1250" stroke="#3e3e3e" stroke-width="2" stroke-linejoin="round" fill="none"/>
<line x1="756" y1="1297" x2="756" y2="1327" stroke="#0c0c0c" stroke-width="2.5"/>
<line x1="804" y1="1285" x2="804" y2="1316" stroke="#0c0c0c" stroke-width="2.5"/>
<path d="M700,1062 L594.4,1224.8 Q570,1234 533,1236" stroke="#1a1a1a" stroke-width="3.5" fill="none"/>
<path d="M703,1064 L597,1227 Q572,1237 533,1239" stroke="#474747" stroke-width="1.6" fill="none"/>
<path d="M651.5,541.3 Q656.0,534.7 661.6,540.5 L714.4,595.2 Q720.0,601.0 715.4,607.6 L692.6,640.1 Q688.0,646.7 682.9,640.5 L634.1,580.9 Q629.0,574.7 633.5,568.1 Z" fill="#00000010" stroke="#5a5a5a" stroke-width="1.4" opacity="0.9"/>
<path d="M651.5,541.3 Q656.0,534.7 661.6,540.5 L714.4,595.2 Q720.0,601.0 715.4,607.6 L692.6,640.1 Q688.0,646.7 682.9,640.5" fill="none" stroke="#161616" stroke-width="4" stroke-linecap="round"/>
<path d="M906.0,509.1 Q910.7,502.7 916.0,508.7 L931.7,526.0 Q937.0,532.0 932.9,538.9 L888.1,613.1 Q884.0,620.0 878.0,614.7 L854.0,593.3 Q848.0,588.0 852.7,581.6 Z" fill="#00000010" stroke="#5a5a5a" stroke-width="1.4" opacity="0.9"/>
<path d="M906.0,509.1 Q910.7,502.7 916.0,508.7 L931.7,526.0 Q937.0,532.0 932.9,538.9 L888.1,613.1 Q884.0,620.0 878.0,614.7" fill="none" stroke="#161616" stroke-width="4" stroke-linecap="round"/>
<path d="M686.3,1141.4 Q690.7,1134.7 697.0,1139.7 L714.7,1153.7 Q721.0,1158.7 716.8,1165.5 L666.9,1247.9 Q662.7,1254.7 656.8,1249.3 L636.6,1230.4 Q630.7,1225.0 635.1,1218.3 Z" fill="#00000010" stroke="#5a5a5a" stroke-width="1.4" opacity="0.9"/>
<path d="M686.3,1141.4 Q690.7,1134.7 697.0,1139.7 L714.7,1153.7 Q721.0,1158.7 716.8,1165.5 L666.9,1247.9 Q662.7,1254.7 656.8,1249.3" fill="none" stroke="#161616" stroke-width="4" stroke-linecap="round"/>
<path d="M870.7,1103.0 Q876.0,1097.0 881.5,1102.8 L929.2,1152.9 Q934.7,1158.7 930.4,1165.5 L912.3,1194.2 Q908.0,1201.0 902.6,1195.1 L850.4,1137.9 Q845.0,1132.0 850.3,1126.0 Z" fill="#00000010" stroke="#5a5a5a" stroke-width="1.4" opacity="0.9"/>
<path d="M870.7,1103.0 Q876.0,1097.0 881.5,1102.8 L929.2,1152.9 Q934.7,1158.7 930.4,1165.5 L912.3,1194.2 Q908.0,1201.0 902.6,1195.1" fill="none" stroke="#161616" stroke-width="4" stroke-linecap="round"/>
<path d="M974.7,762 L1006.7,730 L1016,714 L1016,951 L1006.7,954 L974.7,919 Z" fill="#2d2d2d" stroke="#1a1a1a" stroke-width="2"/>
<path d="M982,765 L1004,742 L1004,940 L982,916 Z" fill="#353535" />
<path d="M992,772 L1012,752 L1012,790 L992,808 Z" fill="#2a2a2a" stroke="#444" stroke-width="1"/>
<path d="M992,880 L1012,898 L1012,935 L992,915 Z" fill="#2a2a2a" stroke="#444" stroke-width="1"/>
<path d="M996,827 L1009,827 L1013,833 L1013,847 L1009,853 L996,853 L992,847 L992,833 Z" fill="#303030" stroke="#555" stroke-width="1.2"/>
</g>
<path d="M580.7,505 Q581,483 605,483 Q630,483 630,507 L631,760 L581,760 Z" fill="#2a2a2a" />
<path d="M596,484 Q630,480 630,507 L631,760 L619,760 L618,512 Q617,494 596,492 Z" fill="#191919" />
<path d="M581.5,760 L581,505 Q581,484 605,483.5" stroke="#4a4a4a" stroke-width="2" fill="none"/>
<line x1="598" y1="606" x2="613" y2="604" stroke="#7a7a7a" stroke-width="9" stroke-linecap="round" opacity="1"/>
<clipPath id="recClip"><path d="M581,600 L630,600 L631,760 L581,760 Z"/></clipPath>
<g clip-path="url(#recClip)">
<ellipse cx="600" cy="664" rx="34" ry="36" fill="#222"/>
<path d="M566,672 Q590,646 632,640" stroke="#4e4e4e" stroke-width="3" fill="none"/>
<path d="M566,680 Q592,654 632,648" stroke="#111" stroke-width="3" fill="none"/>
<path d="M620,683 L597,686.5 L590,703 L591,753" stroke="#a8a8a8" stroke-width="2.2" fill="none" stroke-linejoin="round"/>
<path d="M624,688 L601,691 L595,705 L595,753" stroke="#111" stroke-width="3" fill="none" stroke-linejoin="round"/>
</g>
<path d="M628,650 L700,716.7 L650,801.7 L632,760 L630,660 Z" fill="#2d2d2d" />
<path d="M626,646 L701,716" stroke="#161616" stroke-width="4" fill="none"/>
<path d="M505.3,792 Q506,786 514,786 L573,786 L578,792 L578,1010 Q560,1040 520,1046 L505.3,1046 Z" fill="url(#hinge)" />
<line x1="548" y1="790" x2="548" y2="1030" stroke="#1c1c1c" stroke-width="2"/>
<circle cx="518" cy="861" r="6.5" fill="#0a0a0a"/>
<circle cx="518.6" cy="861.5" r="3.5" fill="#1c1c1c"/>
<path d="M552,903 L572,903 L577,909 L577,922 L572,928 L552,928 L547,922 L547,909 Z" fill="#2e2e2e" stroke="#4a4a4a" stroke-width="1.3"/>
<path d="M548,800 L576,825 L576,870 L548,842 Z" fill="#252525" stroke="#3c3c3c" stroke-width="1"/>
<path d="M548,985 L576,960 L576,1000 L548,1025 Z" fill="#252525" stroke="#3c3c3c" stroke-width="1"/>
<path d="M506,1046 Q540,1046 578,1010" stroke="#484848" stroke-width="1.5" fill="none"/>
<polygon points="572,762 582,762 582,1010 572,1014" fill="#242424" />
<path d="M583,751 Q583,747 588,747 L628,747 Q633,747 633,752 L633,1012 Q633,1037 608,1037 Q583,1037 583,1012 Z" fill="url(#bar)" stroke="#161616" stroke-width="1.5"/>
<path d="M585,747.5 L631,747.5" stroke="#5a5a5a" stroke-width="1.5"/>
<polyline points="497,330.2 1018,330.2 1060,403.3 1427,403.3" fill="none" stroke="#4a80e2" stroke-width="2.8"/>
<line x1="806" y1="869.3" x2="1423" y2="869.3" stroke="#4a80e2" stroke-width="2.8"/>
<line x1="807" y1="1248.3" x2="1426" y2="1248.3" stroke="#4a80e2" stroke-width="2.8"/>
<polygon points="497.5,331.0 492.8,339.2 483.2,339.2 478.5,331.0 483.2,322.8 492.8,322.8" fill="#d8d8d8" />
<polygon points="493.4,331.0 490.7,335.7 485.3,335.7 482.6,331.0 485.3,326.3 490.7,326.3" fill="#c8c8c8" />
<polygon points="805.5,869.3 800.8,877.5 791.2,877.5 786.5,869.3 791.2,861.1 800.8,861.1" fill="#bcbcbc" />
<polygon points="801.4,869.3 798.7,874.0 793.3,874.0 790.6,869.3 793.3,864.6 798.7,864.6" fill="#d6d6d6" />
<polygon points="806.0,1247.0 801.2,1255.2 791.8,1255.2 787.0,1247.0 791.8,1238.8 801.2,1238.8" fill="#bcbcbc" />
<polygon points="801.9,1247.0 799.2,1251.7 793.8,1251.7 791.1,1247.0 793.8,1242.3 799.2,1242.3" fill="#d6d6d6" />
</svg>
<h1 class="t title">PRODUCT STRUCTURE</h1>
<h2 class="t h" style="top:322px">PC Bumper</h2>
<p class="t s" style="top:419px">3-5mm higher than tablet screen</p>
<p class="t s" style="top:456px">to avoid scratches</p>
<h2 class="t h" style="top:792.5px;right:97.5px">PC Cover</h2>
<p class="t s" style="top:879px">Professional protection of</p>
<p class="t s" style="top:917px">camera lens</p>
<h2 class="t h" style="top:1175px;right:94.5px">Silicone case</h2>
<p class="t s" style="top:1260px;font-size:20.3px;right:102px">Strong pulling force, good hand</p>
<p class="t s" style="top:1295.5px;font-size:20.3px;right:102px">feeling, odorless, soft and elastic,</p>
<p class="t s" style="top:1330px;font-size:20.3px;right:102px">strong protection</p>
</div>
</body></html>
